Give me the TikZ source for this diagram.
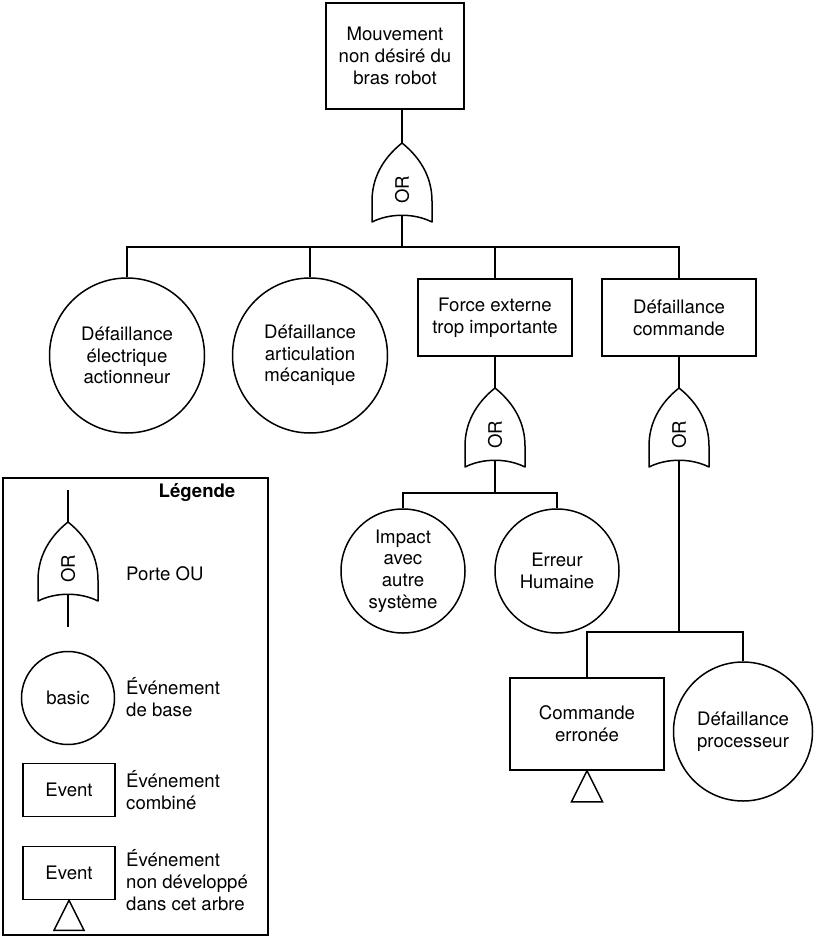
\documentclass[tikz,border=0pt]{standalone}
\usepackage{fontspec}
\setmainfont{TeX Gyre Heros}
\newcommand\ftsize{\fontsize{18.6pt}{21.7pt}\selectfont}
\tikzset{
  wire/.style={draw=black, line width=1.5pt},
  evt/.style={wire, rectangle, minimum width=154pt, minimum height=77pt, align=center, inner sep=0pt},
  basic/.style={wire, circle, minimum size=155pt, align=center, inner sep=0pt},
  lbl/.style={anchor=west, align=left, inner sep=0pt},
  orgate/.pic={
    \draw[wire, line join=round] (0,0) .. controls (20,16) and (30,36) .. (30,58) -- (30,79)
      .. controls (12,70) and (-12,70) .. (-30,79) -- (-30,58)
      .. controls (-30,36) and (-20,16) .. (0,0) -- cycle;
    \node[rotate=90, inner sep=0pt] at (0,47) {OR};
    \coordinate (-in) at (0,0);
    \coordinate (-out) at (0,72);
  }
}
\begin{document}
\begin{tikzpicture}[x=1pt, y=-1pt, font=\ftsize]
\useasboundingbox (0,0) rectangle (817,939);
\node[evt, minimum width=138pt, minimum height=106pt] (top) at (395,56) {Mouvement\\non désiré du\\bras robot};
\pic (g1) at (402,143) {orgate};
\draw[wire] (top.south -| g1-in) -- (g1-in);
\coordinate (b1) at (402,247);
\draw[wire] (g1-out) -- (b1);
\node[basic] (c1) at (127,355.5) {Défaillance\\électrique\\actionneur};
\node[basic] (c2) at (310,355.5) {Défaillance\\articulation\\mécanique};
\node[evt] (force) at (495,317.5) {Force externe\\trop importante};
\node[evt] (cmd) at (679,317.5) {Défaillance\\commande};
\draw[wire] (c1.north) |- (b1);
\draw[wire] (c2.north) |- (b1);
\draw[wire] (force.north) |- (b1);
\draw[wire] (cmd.north) |- (b1);

\pic (g2) at (495,388) {orgate};
\draw[wire] (force.south) -- (g2-in);
\coordinate (b2) at (495,493);
\draw[wire] (g2-out) -- (b2);
\node[basic, minimum size=124pt] (impact) at (403,571) {Impact\\avec\\autre\\système};
\node[basic, minimum size=124pt] (human) at (557,571) {Erreur\\Humaine};
\draw[wire] (impact.north) |- (b2);
\draw[wire] (human.north) |- (b2);

\pic (g3) at (679,388) {orgate};
\draw[wire] (cmd.south) -- (g3-in);
\coordinate (b3) at (679,632);
\draw[wire] (g3-out) -- (b3);
\node[evt, minimum height=92pt] (wrong) at (587,724) {Commande\\erronée};
\node[basic, minimum size=139pt] (cpu) at (743,731.5) {Défaillance\\processeur};
\draw[wire] (wrong.north) |- (b3);
\draw[wire] (cpu.north) |- (b3);
\draw[wire] (wrong.south) -- ++(15.5,31) -- ++(-31,0) -- cycle;

\draw[wire] (3,478) rectangle (268,935);
\node[font=\ftsize\bfseries, inner sep=0pt] (legend) at (197,493) {Légende};
\pic (lg) at (68,522) {orgate};
\coordinate (lgtop) at (68,490);
\coordinate (lgbot) at (68,627);
\draw[wire] (lgtop) -- (lg-in);
\draw[wire] (lg-out) -- (lgbot);
\node[lbl] (lgate) at (126,574) {Porte OU};
\node[basic, minimum size=93pt] (lbasic) at (68,698) {basic};
\node[lbl] (lbasictxt) at (126,697) {Événement\\de base};
\node[evt, minimum width=92pt, minimum height=53pt] (lev1) at (69,790) {Event};
\node[lbl] (lev1txt) at (126,790) {Événement\\combiné};
\node[evt, minimum width=92pt, minimum height=53pt] (lev2) at (69,873) {Event};
\draw[wire] (lev2.south) -- ++(15,30) -- ++(-30,0) -- cycle;
\node[lbl] (lev2txt) at (126,880) {Événement\\non développé\\dans cet arbre};
\end{tikzpicture}
\end{document}
